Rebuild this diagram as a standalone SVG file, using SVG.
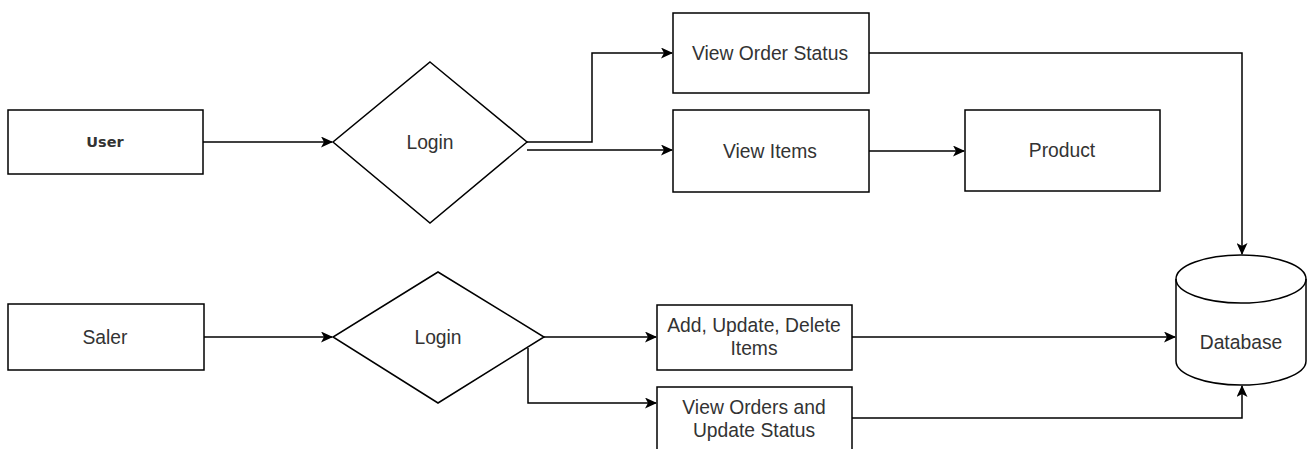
<svg xmlns="http://www.w3.org/2000/svg" width="1310" height="449" viewBox="0 0 1310 449">
  <style>
    .shape { fill: #ffffff; stroke: #000000; stroke-width: 1.5; }
    .edge { fill: none; stroke: #000000; stroke-width: 1.5; }
    .label { font-family: "Liberation Sans", Arial, sans-serif; font-size: 19.3px; fill: #333333; text-anchor: middle; dominant-baseline: central; }
    .label-bold { font-family: "DejaVu Sans", Verdana, sans-serif; font-size: 14.5px; font-weight: bold; fill: #333333; text-anchor: middle; dominant-baseline: central; }
  </style>
  <defs>
    <marker id="arrow" viewBox="0 0 12 11" refX="11" refY="5.5" markerWidth="12" markerHeight="11" markerUnits="userSpaceOnUse" orient="auto">
      <path d="M0,0 L12,5.5 L0,11 L3,5.5 Z" fill="#000000"/>
    </marker>
  </defs>

  <rect width="1310" height="449" fill="#ffffff"/>

  <!-- connectors -->
  <g id="connectors">
    <path class="edge" d="M203,142 H332" marker-end="url(#arrow)"/>
    <path class="edge" d="M527,142 H592 V53 H672" marker-end="url(#arrow)"/>
    <path class="edge" d="M527,150 H672" marker-end="url(#arrow)"/>
    <path class="edge" d="M869,151 H964" marker-end="url(#arrow)"/>
    <path class="edge" d="M869,53 H1242 V254" marker-end="url(#arrow)"/>
    <path class="edge" d="M204,337 H332" marker-end="url(#arrow)"/>
    <path class="edge" d="M544,337 H656" marker-end="url(#arrow)"/>
    <path class="edge" d="M528,348 V403 H656" marker-end="url(#arrow)"/>
    <path class="edge" d="M852,337 H1175" marker-end="url(#arrow)"/>
    <path class="edge" d="M852,418 H1242 V386" marker-end="url(#arrow)"/>
  </g>

  <!-- user side -->
  <g id="user">
    <rect class="shape" x="8" y="110" width="195" height="64"/>
    <text class="label-bold" x="105" y="142">User</text>
  </g>
  <g id="login-user">
    <polygon class="shape" points="430,62 527,142 430,223 333,142"/>
    <text class="label" x="430" y="142">Login</text>
  </g>
  <g id="view-order-status">
    <rect class="shape" x="673" y="13" width="196" height="80"/>
    <text class="label" x="770" y="53">View Order Status</text>
  </g>
  <g id="view-items">
    <rect class="shape" x="673" y="110" width="196" height="82"/>
    <text class="label" x="770" y="151">View Items</text>
  </g>
  <g id="product">
    <rect class="shape" x="965" y="110" width="195" height="81"/>
    <text class="label" x="1062" y="150">Product</text>
  </g>

  <!-- saler side -->
  <g id="saler">
    <rect class="shape" x="8" y="304" width="196" height="66"/>
    <text class="label" x="105" y="337">Saler</text>
  </g>
  <g id="login-saler">
    <polygon class="shape" points="438,272 544,337 438,403 333,337"/>
    <text class="label" x="438" y="337">Login</text>
  </g>
  <g id="add-update-delete">
    <rect class="shape" x="657" y="305" width="195" height="65"/>
    <text class="label" x="754" y="325">Add, Update, Delete</text>
    <text class="label" x="754" y="348">Items</text>
  </g>
  <g id="view-orders">
    <rect class="shape" x="657" y="387" width="195" height="66"/>
    <text class="label" x="754" y="407">View Orders and</text>
    <text class="label" x="754" y="430">Update Status</text>
  </g>

  <!-- storage -->
  <g id="database">
    <path class="shape" d="M1176,279 A65,24 0 0 1 1306,279 V361 A65,24 0 0 1 1176,361 Z"/>
    <path class="edge" d="M1176,279 A65,24 0 0 0 1306,279"/>
    <text class="label" x="1241" y="342">Database</text>
  </g>
</svg>
